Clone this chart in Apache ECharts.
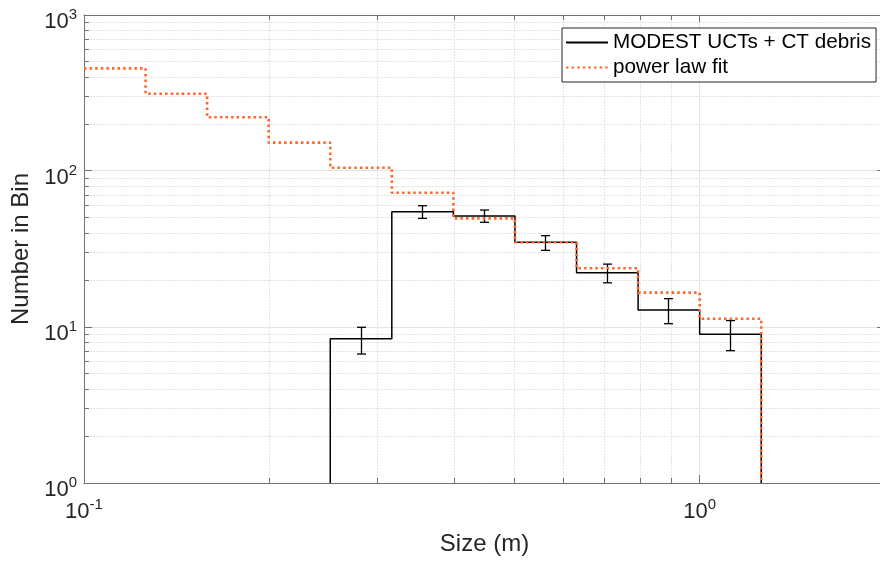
<!DOCTYPE html>
<html><head><meta charset="utf-8">
<script src="https://cdn.jsdelivr.net/npm/echarts@6/dist/echarts.min.js"></script>
<style>html,body{margin:0;padding:0;background:#fff}#c{width:880px;height:563px}</style>
</head><body><div id="c"></div>
<script>
// Bin edges (m), log-spaced bins
const binEdges = [0.1, 0.1259, 0.1585, 0.1995, 0.2512, 0.3162, 0.3981, 0.5012, 0.6310, 0.7943, 1.0, 1.2589];
// power law fit counts per bin
const fitCounts = [455, 313, 221, 152, 105, 72.6, 49.7, 34.9, 23.8, 16.6, 11.3];
// observed counts per bin (MODEST UCTs + CT debris)
const obsCounts = [null, null, null, null, 8.4, 54.8, 51.5, 34.9, 22.3, 12.85, 8.98];
// error bars
const errCenters = [0.2818, 0.3548, 0.4467, 0.5623, 0.7079, 0.8913, 1.1220];
const errLow = [6.71, 49.7, 46.9, 31.0, 19.2, 10.5, 7.05];
const errHigh = [9.96, 59.9, 56.2, 38.5, 25.3, 15.2, 11.0];
// axes
const xRange = [0.1, 2];
const yRange = [1, 1000];
const seriesNames = ['MODEST UCTs + CT debris', 'power law fit'];
const xLabel = 'Size (m)';
const yLabel = 'Number in Bin';

const FONT = "'Liberation Sans', Arial, Helvetica, sans-serif";
const AXIS_COLOR = '#707070';
const GRID_COLOR = '#e3e3e3';

function stepPath(edges, counts, floor, startFromFloor) {
  const pts = [];
  let first = true;
  for (let i = 0; i < counts.length; i++) {
    const v = counts[i];
    if (v == null) continue;
    if (first) {
      if (startFromFloor) pts.push([edges[i], floor]);
      first = false;
    }
    pts.push([edges[i], v]);
    pts.push([edges[i + 1], v]);
  }
  pts.push([edges[counts.length], floor]);
  return pts;
}

function logGridValues(lo, hi) {
  const vals = [];
  for (let d = Math.floor(Math.log10(lo)); d <= Math.ceil(Math.log10(hi)); d++) {
    for (let k = 1; k <= 9; k++) {
      const v = k * Math.pow(10, d);
      if (v >= lo * 0.9999 && v <= hi * 1.0001) vals.push(+v.toPrecision(6));
    }
  }
  return vals;
}
function isMajor(v) {
  const e = Math.log10(v);
  return Math.abs(e - Math.round(e)) < 1e-6;
}
function powLabel(v) {
  if (!isMajor(v)) return '';
  return '{b|10}{s|' + Math.round(Math.log10(v)) + '}';
}

const xGrid = logGridValues(xRange[0], xRange[1]).map(v => [v, yRange[0]]);
const yGrid = logGridValues(yRange[0], yRange[1]).map(v => [xRange[0], v]);

function crisp(v) { return Math.round(v - 0.5) + 0.5; }

const richLabel = {
  b: { fontSize: 22, fontFamily: FONT, color: '#262626', lineHeight: 26, verticalAlign: 'bottom' },
  s: { fontSize: 15, fontFamily: FONT, color: '#262626', lineHeight: 15, verticalAlign: 'top' }
};

const chart = echarts.init(document.getElementById('c'), null, { renderer: 'canvas' });
chart.setOption({
  animation: false,
  backgroundColor: '#fff',
  grid: { left: 84, top: 15, width: 801, height: 468, outerBoundsMode: 'none', containLabel: false },
  legend: {
    data: seriesNames,
    orient: 'vertical',
    left: 562, top: 28,
    padding: [4, 5, 4, 3],
    itemGap: 4,
    itemWidth: 42, itemHeight: 24,
    selectedMode: false,
    backgroundColor: '#fff',
    borderColor: '#262626', borderWidth: 1, borderRadius: 0,
    itemStyle: { opacity: 0 },
    textStyle: { fontSize: 20.7, fontFamily: FONT, color: '#000', padding: [0, 0, 0, 0] },
    z: 20
  },
  xAxis: [{
    type: 'log', logBase: 10, min: xRange[0], max: xRange[1],
    axisLine: { show: true, lineStyle: { color: AXIS_COLOR, width: 1 } },
    axisTick: { show: false },
    splitLine: { show: false },
    minorTick: { show: false },
    axisLabel: { formatter: powLabel, rich: richLabel, margin: 14, showMaxLabel: false },
    name: xLabel, nameLocation: 'middle', nameGap: 49,
    nameTextStyle: { fontSize: 24, fontFamily: FONT, color: '#262626' }
  }, {
    type: 'log', logBase: 10, min: xRange[0], max: xRange[1], position: 'top',
    axisLine: { show: true, lineStyle: { color: AXIS_COLOR, width: 1 } },
    axisTick: { show: false }, splitLine: { show: false }, axisLabel: { show: false }
  }],
  yAxis: {
    type: 'log', logBase: 10, min: yRange[0], max: yRange[1],
    axisLine: { show: true, lineStyle: { color: AXIS_COLOR, width: 1 } },
    axisTick: { show: false },
    splitLine: { show: false },
    axisLabel: { formatter: powLabel, rich: richLabel, margin: 7, padding: [10, 0, 0, 0] },
    name: yLabel, nameLocation: 'middle', nameGap: 48,
    nameTextStyle: { fontSize: 24, fontFamily: FONT, color: '#262626' }
  },
  series: [
    {
      type: 'custom', name: 'xgrid', silent: true, z: 0,
      data: xGrid, encode: { x: 0, y: 1 },
      renderItem: function (params, api) {
        const cs = params.coordSys;
        const v = api.value(0);
        const px = crisp(api.coord([v, api.value(1)])[0]);
        const major = isMajor(v);
        const len = major ? 8 : 5;
        const bottom = cs.y + cs.height, top = cs.y;
        return { type: 'group', children: [
          { type: 'line', shape: { x1: px, y1: top, x2: px, y2: bottom }, style: { stroke: GRID_COLOR, lineWidth: 1, lineDash: major ? null : [2, 1] } },
          { type: 'line', shape: { x1: px, y1: bottom, x2: px, y2: bottom - len }, style: { stroke: AXIS_COLOR, lineWidth: 1 } },
          { type: 'line', shape: { x1: px, y1: top, x2: px, y2: top + len }, style: { stroke: AXIS_COLOR, lineWidth: 1 } }
        ] };
      }
    },
    {
      type: 'custom', name: 'ygrid', silent: true, z: 0,
      data: yGrid, encode: { x: 0, y: 1 },
      renderItem: function (params, api) {
        const cs = params.coordSys;
        const v = api.value(1);
        const py = crisp(api.coord([api.value(0), v])[1]);
        const major = isMajor(v);
        const len = major ? 8 : 5;
        const left = cs.x, right = cs.x + cs.width;
        return { type: 'group', children: [
          { type: 'line', shape: { x1: left, y1: py, x2: right, y2: py }, style: { stroke: GRID_COLOR, lineWidth: 1, lineDash: major ? null : [2, 1] } },
          { type: 'line', shape: { x1: left, y1: py, x2: left + len, y2: py }, style: { stroke: AXIS_COLOR, lineWidth: 1 } },
          { type: 'line', shape: { x1: right, y1: py, x2: right - len, y2: py }, style: { stroke: AXIS_COLOR, lineWidth: 1 } }
        ] };
      }
    },
    {
      type: 'line', name: seriesNames[0], z: 5,
      data: stepPath(binEdges, obsCounts, yRange[0], true),
      showSymbol: false, symbol: 'none',
      lineStyle: { color: '#000', width: 1.5 },
      itemStyle: { color: '#000' }
    },
    {
      type: 'custom', name: 'errorbars', z: 6,
      data: errCenters.map((c, i) => [c, errLow[i], errHigh[i]]),
      encode: { x: 0, y: [1, 2] },
      renderItem: function (params, api) {
        const c = api.value(0);
        const pLo = api.coord([c, api.value(1)]);
        const pHi = api.coord([c, api.value(2)]);
        const px = crisp(pLo[0]);
        const half = 4.5;
        const st = { stroke: '#000', lineWidth: 1.3 };
        return { type: 'group', children: [
          { type: 'line', shape: { x1: px, y1: pHi[1], x2: px, y2: pLo[1] }, style: st },
          { type: 'line', shape: { x1: px - half, y1: pHi[1], x2: px + half, y2: pHi[1] }, style: st },
          { type: 'line', shape: { x1: px - half, y1: pLo[1], x2: px + half, y2: pLo[1] }, style: st }
        ] };
      }
    },
    {
      type: 'line', name: seriesNames[1], z: 7,
      data: stepPath(binEdges, fitCounts, yRange[0], false),
      showSymbol: false, symbol: 'none',
      lineStyle: { color: '#ff6629', width: 2.6, type: [2.5, 3.1] },
      itemStyle: { color: '#ff6629' }
    }
  ]
});
</script>
</body></html>
